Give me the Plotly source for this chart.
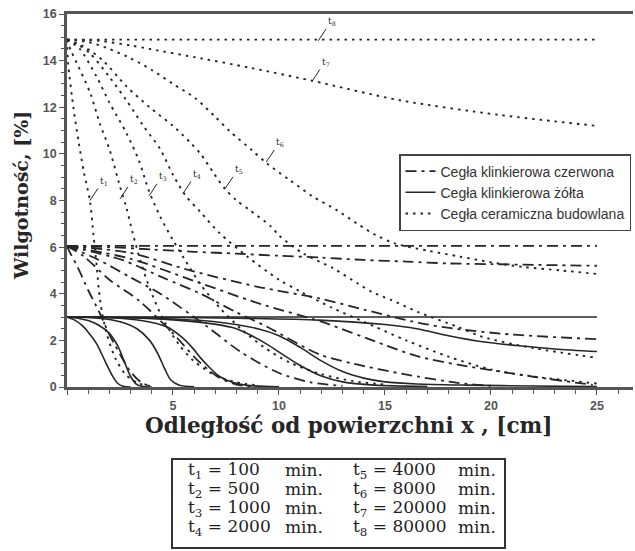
import plotly.graph_objects as go

# ---------------- data ----------------
# Cegła ceramiczna budowlana (dotted)
cer_t1_x = [0, 0.05, 0.3, 0.55, 0.8, 1.08, 1.25, 1.4, 1.5, 1.65, 1.9, 2.3, 2.8, 3.4, 4.0]
cer_t1_y = [14.9, 13.9, 12.0, 10.5, 9.2, 8.0, 6.5, 5.2, 4.2, 3.2, 2.2, 1.2, 0.5, 0.15, 0.03]
cer_t2_x = [0, 0.2, 0.46, 1.1, 1.55, 2.0, 2.5, 2.8, 3.1, 3.5, 4.0, 4.6, 5.3, 6.0, 7.0, 8.0, 9.0]
cer_t2_y = [14.9, 14.4, 13.9, 12.6, 11.3, 10.2, 8.6, 7.7, 6.6, 5.3, 4.0, 2.8, 1.8, 1.1, 0.5, 0.2, 0.07]
cer_t3_x = [0, 0.6, 1.4, 2.0, 2.8, 3.4, 3.87, 4.4, 5.0, 5.6, 6.3, 7.2, 8.2, 9.3, 10.5, 12.0, 13.5, 15.0]
cer_t3_y = [14.9, 14.5, 13.3, 12.2, 10.9, 9.7, 8.4, 7.3, 6.3, 5.4, 4.4, 3.4, 2.5, 1.7, 1.05, 0.55, 0.25, 0.1]
cer_t4_x = [0, 0.5, 1.1, 2.0, 2.8, 3.6, 4.4, 5.0, 5.6, 6.3, 7.2, 8.5, 10.0, 11.0, 12.5, 14.0, 16.0, 18.0, 20.0, 22.0, 25.0]
cer_t4_y = [14.9, 14.7, 14.3, 13.3, 12.3, 11.2, 10.2, 9.1, 8.2, 7.5, 6.6, 5.6, 4.6, 4.1, 3.4, 2.8, 2.0, 1.3, 0.75, 0.45, 0.15]
cer_t5_x = [0, 0.8, 1.7, 2.8, 3.9, 5.0, 5.8, 6.3, 6.9, 7.45, 8.0, 8.6, 9.6, 10.0, 11.1, 12.56, 13.7, 14.4, 15.3, 16.6, 18.4, 19.6, 22.0, 25.0]
cer_t5_y = [14.9, 14.6, 14.0, 12.9, 12.0, 11.2, 10.5, 10.0, 9.2, 8.5, 8.0, 7.6, 6.9, 6.5, 5.75, 5.09, 4.45, 4.07, 3.73, 3.2, 2.59, 2.15, 1.67, 1.25]
cer_t6_x = [0, 1, 2, 3, 4, 5, 6.04, 6.98, 7.69, 8.71, 9.42, 10.5, 11.6, 12.7, 13.7, 14.6, 15.5, 17.0, 18.5, 20.0, 21.5, 23.3, 25.0]
cer_t6_y = [14.9, 14.8, 14.5, 14.1, 13.6, 13.0, 12.4, 11.6, 10.96, 10.17, 9.6, 8.88, 8.17, 7.6, 7.0, 6.5, 6.15, 5.85, 5.6, 5.35, 5.15, 5.0, 4.85]
cer_t7_x = [0, 1.5, 3.0, 3.9, 6.3, 8.6, 11.5, 15.7, 20.4, 25.0]
cer_t7_y = [14.9, 14.85, 14.65, 14.5, 14.1, 13.7, 13.15, 12.3, 11.67, 11.2]
cer_t8_x = [0, 25.0]
cer_t8_y = [14.9, 14.9]

# Cegła klinkierowa czerwona (dash-dot)
red_t1_x = [0, 0.15, 0.5, 1.0, 1.5, 2.0, 2.5, 3.0, 3.5, 4.0]
red_t1_y = [6.05, 5.75, 5.15, 4.15, 3.25, 2.25, 1.4, 0.65, 0.2, 0.0]
red_t2_x = [0, 0.8, 2.0, 3.4, 5.0, 6.1, 7.1, 8.0, 9.0]
red_t2_y = [6.05, 5.6, 4.6, 3.7, 2.3, 1.2, 0.45, 0.1, 0.0]
red_t3_x = [0, 1.5, 3.0, 4.4, 6.6, 8.2, 10.0, 11.5, 13.0]
red_t3_y = [6.05, 5.45, 4.7, 4.0, 2.6, 1.5, 0.6, 0.2, 0.05]
red_t4_x = [0, 2.6, 4.5, 6.3, 8.0, 9.4, 11.9, 13.5, 15.9, 18.5, 20.0]
red_t4_y = [6.05, 5.45, 4.7, 4.0, 3.2, 2.6, 1.4, 1.0, 0.55, 0.17, 0.05]
red_t5_x = [0, 3.0, 6.0, 9.0, 12.0, 15.0, 16.6, 18.5, 22.0, 24.8]
red_t5_y = [6.05, 5.5, 4.55, 3.6, 2.8, 1.8, 1.3, 0.95, 0.44, 0.09]
red_t6_x = [0, 3.0, 5.8, 9.0, 11.9, 14.1, 16.6, 18.3, 21.0, 25.0]
red_t6_y = [6.05, 5.75, 5.0, 4.3, 3.8, 3.3, 2.75, 2.5, 2.25, 2.05]
red_t7_x = [0, 2, 4, 6, 8, 10, 12, 14, 16, 18, 20, 22, 25]
red_t7_y = [6.05, 6.0, 5.9, 5.8, 5.72, 5.63, 5.55, 5.45, 5.38, 5.3, 5.27, 5.24, 5.2]
red_t8_x = [0, 25.0]
red_t8_y = [6.05, 6.05]

# Cegła klinkierowa żółta (solid)
yel_t1_x = [0, 0.3, 0.7, 1.0, 1.4, 1.8, 2.1, 2.4, 2.7, 3.0]
yel_t1_y = [3.0, 2.9, 2.65, 2.35, 1.85, 1.1, 0.55, 0.15, 0.02, 0.0]
yel_t2_x = [0, 0.5, 1.0, 1.5, 2.0, 2.4, 2.7, 3.0, 3.3, 3.6, 4.0]
yel_t2_y = [3.0, 2.95, 2.85, 2.65, 2.3, 1.75, 1.1, 0.45, 0.1, 0.02, 0.0]
yel_t3_x = [0, 1.5, 2.5, 3.3, 3.9, 4.3, 4.6, 4.9, 5.3, 6.0]
yel_t3_y = [3.0, 2.95, 2.8, 2.5, 2.0, 1.4, 0.8, 0.3, 0.08, 0.01]
yel_t4_x = [0, 2.0, 3.5, 4.7, 5.4, 5.9, 6.3, 6.7, 7.2, 7.8, 8.5, 10.0]
yel_t4_y = [3.0, 2.97, 2.85, 2.58, 2.15, 1.7, 1.25, 0.86, 0.45, 0.2, 0.07, 0.01]
yel_t5_x = [0, 3.0, 5.0, 6.5, 7.8, 8.6, 9.4, 10.2, 11.0, 12.0, 13.0, 14.5, 17.0]
yel_t5_y = [3.0, 2.97, 2.88, 2.75, 2.55, 2.25, 1.85, 1.38, 0.92, 0.47, 0.22, 0.08, 0.02]
yel_t6_x = [0, 4.0, 7.0, 9.0, 10.0, 11.0, 12.0, 13.0, 14.0, 15.0, 16.5, 18.9, 22.0, 25.0]
yel_t6_y = [3.0, 2.95, 2.8, 2.5, 2.2, 1.7, 1.12, 0.66, 0.38, 0.22, 0.13, 0.08, 0.04, 0.02]
yel_t7_x = [0, 5, 8, 11.9, 15.0, 16.5, 18.0, 19.6, 21.2, 23.0, 25.0]
yel_t7_y = [3.0, 2.98, 2.95, 2.87, 2.68, 2.5, 2.2, 1.94, 1.78, 1.63, 1.52]
yel_t8_x = [0, 25.0]
yel_t8_y = [3.0, 3.0]

series_names = ["Cegła klinkierowa czerwona", "Cegła klinkierowa żółta", "Cegła ceramiczna budowlana"]

# curve labels t1..t8 (placed on the dotted curves)
lab_names = ["t<sub>1</sub>", "t<sub>2</sub>", "t<sub>3</sub>", "t<sub>4</sub>",
             "t<sub>5</sub>", "t<sub>6</sub>", "t<sub>7</sub>", "t<sub>8</sub>"]
lab_x = [1.08, 2.5, 3.87, 5.47, 7.45, 9.4, 11.55, 11.85]
lab_y = [8.0, 8.07, 8.2, 8.3, 8.5, 9.65, 13.1, 14.85]

# time table
time_col1 = ["t<sub>1</sub> = 100", "t<sub>2</sub> = 500", "t<sub>3</sub> = 1000", "t<sub>4</sub> = 2000"]
time_col2 = ["t<sub>5</sub> = 4000", "t<sub>6</sub> = 8000", "t<sub>7</sub> = 20000", "t<sub>8</sub> = 80000"]
time_unit = "min."

x_title = "Odległość od powierzchni x , [cm]"
y_title = "Wilgotność, [%]"

# ---------------- figure ----------------
LC = "#262626"
red_dash = "11px,5px,3px,5px"
dot_dash = "2.5px,5px"

ML, MR, MT, MB = 67, 2, 14, 164
W, H = 635, 551
PW, PH = W - ML - MR, H - MT - MB

def px_to_paper_x(px):
    return (px - ML) / float(PW)

def px_to_paper_y(py):
    return (H - MB - py) / float(PH)

fig = go.Figure()

families = [
    (series_names[0], red_dash, 1.8, [(red_t1_x, red_t1_y), (red_t2_x, red_t2_y), (red_t3_x, red_t3_y), (red_t4_x, red_t4_y),
                                      (red_t5_x, red_t5_y), (red_t6_x, red_t6_y), (red_t7_x, red_t7_y), (red_t8_x, red_t8_y)]),
    (series_names[1], "solid", 1.6, [(yel_t1_x, yel_t1_y), (yel_t2_x, yel_t2_y), (yel_t3_x, yel_t3_y), (yel_t4_x, yel_t4_y),
                                     (yel_t5_x, yel_t5_y), (yel_t6_x, yel_t6_y), (yel_t7_x, yel_t7_y), (yel_t8_x, yel_t8_y)]),
    (series_names[2], dot_dash, 1.9, [(cer_t1_x, cer_t1_y), (cer_t2_x, cer_t2_y), (cer_t3_x, cer_t3_y), (cer_t4_x, cer_t4_y),
                                      (cer_t5_x, cer_t5_y), (cer_t6_x, cer_t6_y), (cer_t7_x, cer_t7_y), (cer_t8_x, cer_t8_y)]),
]

for name, dash, lw, curves in families:
    for i, (xs, ys) in enumerate(curves):
        fig.add_trace(go.Scatter(
            x=xs, y=ys, mode="lines", name=name, legendgroup=name,
            showlegend=(i == 0),
            line=dict(color=LC, width=lw, dash=dash, shape="spline", smoothing=0.8),
            hoverinfo="skip",
        ))

annotations = []
for t, x, y in zip(lab_names, lab_x, lab_y):
    annotations.append(dict(
        x=x, y=y, xref="x", yref="y", text=t, showarrow=True,
        arrowhead=0, arrowwidth=1, arrowcolor=LC, ax=8, ay=-12,
        xanchor="left", yanchor="bottom", standoff=0,
        font=dict(family="DejaVu Serif", size=9, color=LC),
    ))

# axis titles
annotations.append(dict(
    x=px_to_paper_x(349), y=px_to_paper_y(425), xref="paper", yref="paper",
    text=x_title, showarrow=False, xanchor="center", yanchor="middle",
    font=dict(family="DejaVu Serif", size=21.5, color="#262626", weight="bold"),
))
annotations.append(dict(
    x=px_to_paper_x(21), y=px_to_paper_y(196), xref="paper", yref="paper",
    text=y_title, showarrow=False, xanchor="center", yanchor="middle", textangle=-90,
    font=dict(family="DejaVu Serif", size=19, color="#262626", weight="bold"),
))

# time table
tbl_font = dict(family="DejaVu Serif", size=17, color="#1e1e1e")
row_y = [470, 489, 508, 527]
for r in range(4):
    for txt, px in [(time_col1[r], 186), (time_unit, 283), (time_col2[r], 351), (time_unit, 456)]:
        annotations.append(dict(
            x=px_to_paper_x(px), y=px_to_paper_y(row_y[r]), xref="paper", yref="paper",
            text=txt, showarrow=False, xanchor="left", yanchor="middle", align="left",
            font=tbl_font,
        ))

fig.add_shape(type="rect", xref="paper", yref="paper",
              x0=px_to_paper_x(172), x1=px_to_paper_x(505),
              y0=px_to_paper_y(459), y1=px_to_paper_y(548),
              line=dict(color="#333", width=2), fillcolor="rgba(0,0,0,0)")

fig.update_layout(
    width=W, height=H,
    margin=dict(l=ML, r=MR, t=MT, b=MB),
    paper_bgcolor="white", plot_bgcolor="white",
    showlegend=True,
    legend=dict(
        x=px_to_paper_x(399), y=px_to_paper_y(154), xanchor="left", yanchor="top",
        bordercolor="#444", borderwidth=1.5, bgcolor="white",
        font=dict(family="Liberation Sans", size=14, color="#333"),
        tracegroupgap=0, itemwidth=30,
    ),
    annotations=annotations,
    xaxis=dict(
        range=[0, 26.7], tickvals=[0, 5, 10, 15, 20, 25], ticktext=["", "5", "10", "15", "20", "25"],
        ticks="outside", ticklen=5, tickwidth=1.2, tickcolor="#555",
        minor=dict(dtick=1, ticks="outside", ticklen=4, tickcolor="#555", tickwidth=1),
        showline=True, linecolor="#555", linewidth=2.5, mirror=True,
        showgrid=False, zeroline=False, automargin=False,
        tickfont=dict(family="Liberation Sans", size=12.5, color="#555", weight="bold"),
    ),
    yaxis=dict(
        range=[0, 16], dtick=2, ticks="outside", ticklen=5, tickwidth=1.2, tickcolor="#555",
        minor=dict(dtick=0.5, ticks="outside", ticklen=3, tickcolor="#555", tickwidth=1),
        showline=True, linecolor="#555", linewidth=2.5, mirror=False,
        showgrid=False, zeroline=False, automargin=False,
        tickfont=dict(family="Liberation Sans", size=12.5, color="#555", weight="bold"),
    ),
)

# remove the default 8px page margin so the figure sits at the window origin
fig.write_html("out.html", config={"displayModeBar": False},
               post_script="document.body.style.margin='0';document.body.style.overflow='hidden';")
